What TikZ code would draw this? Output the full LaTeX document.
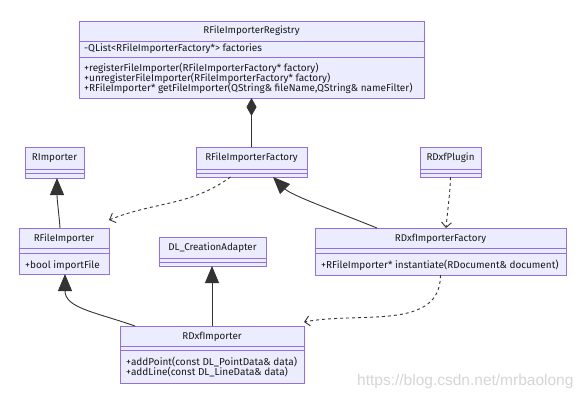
\documentclass[tikz,border=0pt]{standalone}
\usepackage{fontspec}
\setmainfont{Fira Sans}
\newfontfamily\wmfont{Liberation Sans}
\usetikzlibrary{arrows.meta,calc}
\definecolor{boxfill}{HTML}{ECECFF}
\definecolor{boxline}{HTML}{9370DB}
\definecolor{edgecol}{HTML}{333333}
\definecolor{wmcol}{HTML}{D6D6D6}
\newcommand\umlbox[5]{\node[classbox, minimum width={#4-#2}, minimum height={#5-#3}] (#1) at ({(#2+#4)/2},{(#3+#5)/2}) {};}
\newcommand\umldiv[2]{\draw[divider] (#1.west |- 0,#2) -- (#1.east |- 0,#2);}
\begin{document}
\begin{tikzpicture}[x=1pt,y=-1pt,
  classbox/.style={draw=boxline, fill=boxfill, line width=1pt, inner sep=0pt, outer sep=0pt},
  divider/.style={draw=boxline, line width=1pt},
  ctitle/.style={font=\fontsize{9.8}{11}\selectfont, text=black!90, inner sep=0pt, anchor=mid},
  member/.style={font=\fontsize{10}{11}\selectfont, text=black!90, inner sep=0pt, anchor=mid west},
  inherit/.style={draw=edgecol, line width=0.9pt, -{Triangle[length=17pt,width=14pt]}},
  compose/.style={draw=edgecol, line width=0.9pt, {Diamond[length=18pt,width=10pt]}-},
  dep/.style={draw=edgecol, line width=0.9pt, dash pattern=on 3pt off 3pt, -{Straight Barb[length=5pt,width=10pt]}}
]
\fill[white] (0,0) rectangle (585,402);
\useasboundingbox (0,0) rectangle (585,402);

% class boxes
\umlbox{reg}{79}{21}{424}{98}
\umldiv{reg}{41}\umldiv{reg}{57}
\node[ctitle] (regt) at (reg.center |- 0,31) {RFileImporterRegistry};
\node[member] (rega) at (84,49) {-QList<RFileImporterFactory*> factories};
\node[member] (regm1) at (84,69) {+registerFileImporter(RFileImporterFactory* factory)};
\node[member] (regm2) at (84,79) {+unregisterFileImporter(RFileImporterFactory* factory)};
\node[member] (regm3) at (84,89) {+RFileImporter* getFileImporter(QString\& fileName,QString\& nameFilter)};

\umlbox{rimp}{25}{147}{84}{178}
\umldiv{rimp}{169}\umldiv{rimp}{173}
\node[ctitle] (rimpt) at (rimp.center |- 0,158) {RImporter};

\umlbox{rfif}{196}{147}{307}{177}
\umldiv{rfif}{169}\umldiv{rfif}{173}
\node[ctitle] (rfift) at (rfif.center |- 0,158) {RFileImporterFactory};

\umlbox{rdxp}{420}{147}{481}{177}
\umldiv{rdxp}{169}\umldiv{rdxp}{173}
\node[ctitle] (rdxpt) at (rdxp.center |- 0,158) {RDxfPlugin};

\umlbox{rfi}{19}{228}{109}{274}
\umldiv{rfi}{248}\umldiv{rfi}{253}
\node[ctitle] (rfit) at (rfi.center |- 0,239) {RFileImporter};
\node[member] (rfim) at (25,266) {+bool importFile};

\umlbox{dl}{159}{237}{266}{266}
\umldiv{dl}{258}\umldiv{dl}{262}
\node[ctitle] (dlt) at (dl.center |- 0,248) {DL\_CreationAdapter};

\umlbox{rdif}{315}{228}{566}{275}
\umldiv{rdif}{248}\umldiv{rdif}{253}
\node[ctitle] (rdift) at (rdif.center |- 0,239) {RDxfImporterFactory};
\node[member] (rdifm) at (321,266) {+RFileImporter* instantiate(RDocument\& document)};

\umlbox{rdi}{120}{326}{304}{383}
\umldiv{rdi}{346}\umldiv{rdi}{350}
\node[ctitle] (rdit) at (rdi.center |- 0,337) {RDxfImporter};
\node[member] (rdim1) at (126,363) {+addPoint(const DL\_PointData\& data)};
\node[member] (rdim2) at (126,373) {+addLine(const DL\_LineData\& data)};

% connectors
\draw[compose] (reg.south) -- (rfif.north);
\draw[inherit] ([xshift=-4pt]rfi.north) .. controls +(-1,-14) and +(0,22) .. ([xshift=2.5pt]rimp.south);
\draw[inherit] ([xshift=15pt]rdi.north west) .. controls +(-40,-14) and +(0,34) .. ([xshift=1pt]rfi.south);
\draw[inherit] (rdi.north) -- (rdi.north |- dl.south);
\draw[inherit] ([xshift=62pt]rdif.north west) .. controls +(-50,-20) and +(18,18) .. ([xshift=-34pt]rfif.south east);
\draw[dep] ([xshift=-21pt]rfif.south) to[out=216,in=22] ([yshift=8pt]rfi.north east);
\draw[dep] (rdxp.south) to[out=-92,in=85] ([xshift=5.5pt]rdif.north);
\draw[dep] (rdif.south) to[out=-90,in=11] ([yshift=4pt]rdi.north east);

% watermark
\node[font=\wmfont\fontsize{15.5}{17}\selectfont, text=wmcol, anchor=mid west, inner sep=0pt] (wm) at (357,383) {https://blog.csdn.net/mrbaolong};
\end{tikzpicture}
\end{document}
